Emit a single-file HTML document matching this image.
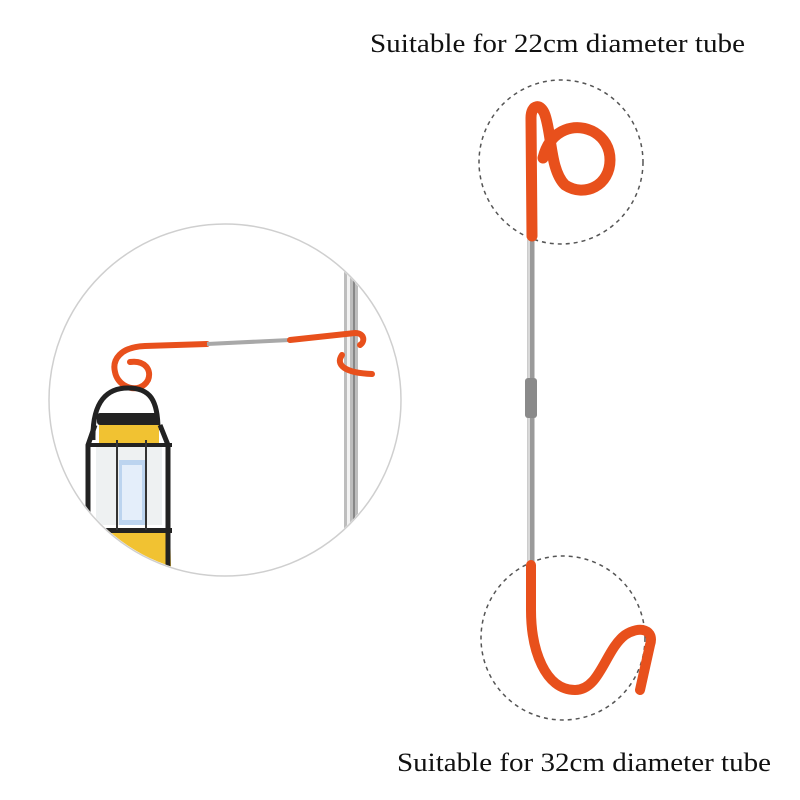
<!DOCTYPE html>
<html><head><style>
body{margin:0;background:#fff;width:800px;height:800px;overflow:hidden}
svg{display:block}
text{font-family:"Liberation Serif",serif;font-size:26px;fill:#111}
</style></head><body>
<svg width="800" height="800" viewBox="0 0 800 800">
<rect width="800" height="800" fill="#fff"/>
<text x="370" y="52" textLength="375" lengthAdjust="spacingAndGlyphs">Suitable for 22cm diameter tube</text>
<text x="397" y="771" textLength="374" lengthAdjust="spacingAndGlyphs">Suitable for 32cm diameter tube</text>
<circle cx="561" cy="162" r="82" fill="none" stroke="#555" stroke-width="1.5" stroke-dasharray="4 4"/>
<circle cx="563" cy="638" r="82" fill="none" stroke="#555" stroke-width="1.5" stroke-dasharray="4 4"/>
<line x1="531" y1="230" x2="531" y2="570" stroke="#9a9a9a" stroke-width="7"/>
<line x1="529" y1="230" x2="529" y2="570" stroke="#d8d8d8" stroke-width="2"/>
<rect x="525" y="378" width="12" height="40" rx="3" fill="#8a8a8a"/>
<path d="M532 236 L531 118 C531 104 541 103 545 115 C552 135 550 170 565 185 C585 198 610 185 610 160 C610 135 585 122 565 130 C550 136 545 150 543 158" fill="none" stroke="#e8501c" stroke-width="11" stroke-linecap="round"/>
<path d="M531 565 L531 610 C531 650 545 690 575 690 C600 690 605 650 625 635 C640 625 655 630 650 645 L640 690" fill="none" stroke="#e8501c" stroke-width="10" stroke-linecap="round"/>
<circle cx="225" cy="400" r="176" fill="#fff" stroke="#cfcfcf" stroke-width="1.5"/>
<clipPath id="c"><circle cx="225" cy="400" r="175"/></clipPath>
<g clip-path="url(#c)">
<rect x="344" y="265" width="14" height="300" fill="#bdbdbd"/>
<rect x="347" y="265" width="3" height="300" fill="#f2f2f2"/>
<rect x="353" y="265" width="2" height="300" fill="#888"/>
<path d="M207 344 L145 346 C120 347 112 360 115 372 C118 388 140 395 148 380 C152 370 145 360 130 362" fill="none" stroke="#e8501c" stroke-width="6" stroke-linecap="round"/>
<line x1="207" y1="344" x2="290" y2="340" stroke="#a8a8a8" stroke-width="4"/>
<path d="M290 340 L355 333 C365 333 365 342 360 345" fill="none" stroke="#e8501c" stroke-width="6" stroke-linecap="round"/>
<path d="M342 355 C335 365 345 373 372 374" fill="none" stroke="#e8501c" stroke-width="6" stroke-linecap="round"/>
<path d="M93 440 C92 400 108 388 128 388 C150 388 158 400 158 430" fill="none" stroke="#222" stroke-width="5"/>
<rect x="97" y="413" width="62" height="12" rx="3" fill="#222"/>
<rect x="99" y="425" width="60" height="22" fill="#f1c232"/>
<rect x="96" y="447" width="66" height="78" fill="#eef1f2"/>
<rect x="119" y="460" width="26" height="65" fill="#bcd4ef"/>
<rect x="122" y="465" width="20" height="55" fill="#e4eefa"/>
<path d="M100 530 L170 530 L172 600 L100 600 Z" fill="#f1c232"/>
<rect x="86" y="443" width="86" height="4" fill="#222"/>
<rect x="86" y="528" width="86" height="5" fill="#222"/>
<path d="M95 425 L88 445 L88 560" fill="none" stroke="#222" stroke-width="5"/>
<path d="M160 425 L168 445 L168 580" fill="none" stroke="#222" stroke-width="5"/>
<line x1="117" y1="440" x2="117" y2="530" stroke="#333" stroke-width="2"/>
<line x1="146" y1="440" x2="146" y2="530" stroke="#333" stroke-width="2"/>
</g>
</svg>
</body></html>
